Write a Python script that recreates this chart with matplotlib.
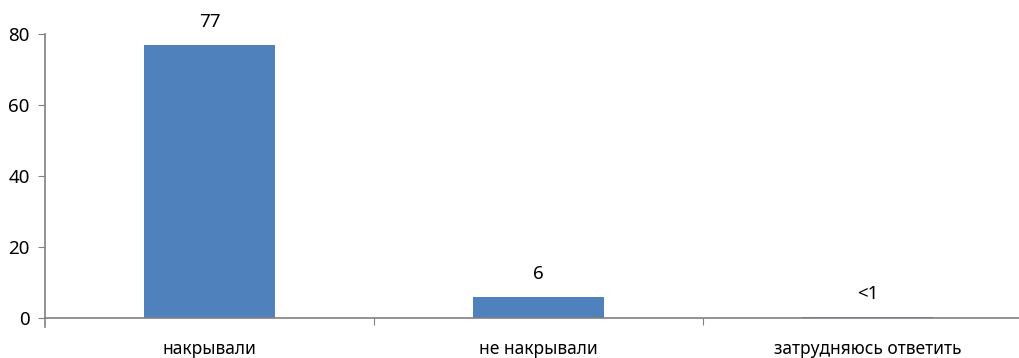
import matplotlib.pyplot as plt

# data
categories = ["накрывали", "не накрывали", "затрудняюсь ответить"]
values = [77, 6, 0.4]
value_labels = ["77", "6", "<1"]
yticks = [0, 20, 40, 60, 80]

plt.rcParams['font.family'] = ['Noto Sans', 'DejaVu Sans']

fig = plt.figure(figsize=(10.2, 3.58), dpi=100)
# axes runs past the right edge like the original
ax = fig.add_axes([45/1020, 31/358, 987/1020, 293/358])

x = range(len(categories))
ax.bar(x, values, width=0.4, color="#4F81BD")

for xi, v, lab in zip(x, values, value_labels):
    ax.annotate(lab, (xi, v), xytext=(0, 10), textcoords="offset points",
                ha="center", va="bottom", fontsize=13.5)

ax.set_xlim(-0.5, 2.5)
ax.set_ylim(-2.55, 80)
ax.set_yticks(yticks)
ax.set_yticklabels([str(t) for t in yticks])

# category boundaries as ticks, names as minor tick labels
ax.set_xticks([0.5, 1.5])
ax.set_xticklabels([])
ax.set_xticks(list(x), minor=True)
ax.set_xticklabels(categories, minor=True)
ax.tick_params(axis="x", which="minor", length=0, pad=16, labelsize=12.5)
ax.tick_params(axis="x", which="major", length=5, direction="out", color="#808080")
ax.tick_params(axis="y", length=5, direction="out", color="#808080", pad=6, labelsize=13.5)

for s in ["top", "right"]:
    ax.spines[s].set_visible(False)
ax.spines["bottom"].set_position(("data", 0))
ax.spines["bottom"].set_color("#808080")
ax.spines["left"].set_color("#808080")
ax.spines["bottom"].set_linewidth(1.2)
ax.spines["left"].set_linewidth(1.2)

fig.savefig("out.png", dpi=100)
